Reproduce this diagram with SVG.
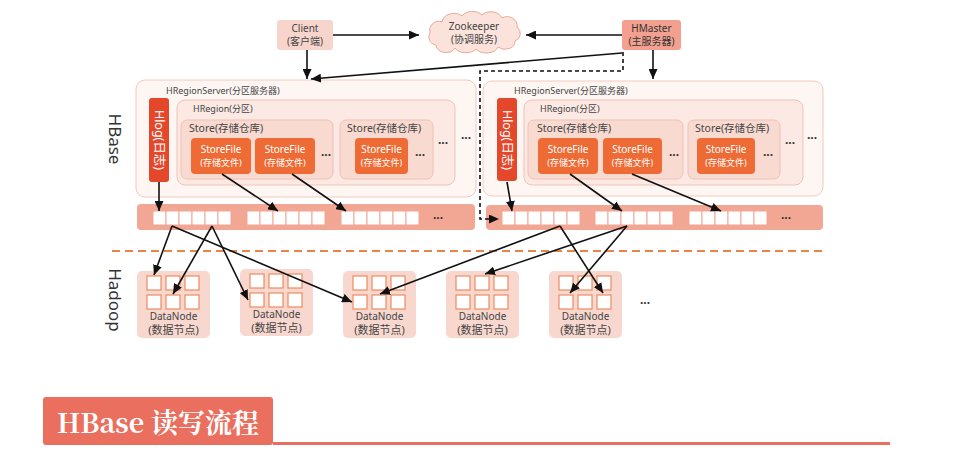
<svg xmlns="http://www.w3.org/2000/svg" xmlns:xlink="http://www.w3.org/1999/xlink" width="953" height="462" viewBox="0 0 953 462">
<style>
text{font-family:"Noto Sans","Open Sans","Noto Sans CJK SC",sans-serif;fill:#444}
.t9{font-size:9px}
.t10{font-size:10px}
.t105{font-size:10.5px}
.c{text-anchor:middle}
.w{fill:#fff}
.rs{fill:#fef6f3;stroke:#f2c9bd;stroke-width:1}
.rg{fill:#fce9e3;stroke:#f0c3b6;stroke-width:1}
.st{fill:#f9dad1;stroke:#efc2b5;stroke-width:1}
.sf{fill:#ee6b35}
.hl{fill:#e5472b}
.bar{fill:#f2a794}
.cell{fill:#fff;stroke:#f2a794;stroke-width:1}
.dn{fill:#f8d8ce}
.dc{fill:#fff;stroke:#ef8b5f;stroke-width:1.2}
.ar{stroke:#111;stroke-width:1.6;fill:none;marker-end:url(#ah)}
.dots{font-size:12px;fill:#333;font-weight:bold}
</style>
<defs>
<marker id="ah" markerUnits="userSpaceOnUse" markerWidth="10" markerHeight="9" refX="10" refY="4.5" orient="auto">
<path d="M0,0 L10,4.5 L0,9 z" fill="#111"/>
</marker>
<g id="cells6">
<rect class="cell" x="0" y="0" width="13" height="14"/>
<rect class="cell" x="13" y="0" width="13" height="14"/>
<rect class="cell" x="26" y="0" width="13" height="14"/>
<rect class="cell" x="39" y="0" width="13" height="14"/>
<rect class="cell" x="52" y="0" width="13" height="14"/>
<rect class="cell" x="65" y="0" width="13" height="14"/>
</g>
<g id="dnode">
<rect class="dn" x="0" y="0" width="73" height="67" rx="5"/>
<rect class="dc" x="10" y="5" width="14" height="14"/>
<rect class="dc" x="29" y="5" width="14" height="14"/>
<rect class="dc" x="48" y="5" width="14" height="14"/>
<rect class="dc" x="10" y="24" width="14" height="14"/>
<rect class="dc" x="29" y="24" width="14" height="14"/>
<rect class="dc" x="48" y="24" width="14" height="14"/>
<text class="t10 c" x="36.5" y="49">DataNode</text>
<text class="c" style="font-size:11px" x="36.5" y="63">(数据节点)</text>
</g>
</defs>

<!-- side labels -->
<text x="115" y="139" transform="rotate(90 115 139)" style="font-size:17px;fill:#333" text-anchor="middle" dominant-baseline="central">HBase</text>
<text x="115" y="300" transform="rotate(90 115 300)" style="font-size:17px;fill:#333" text-anchor="middle" dominant-baseline="central">Hadoop</text>

<!-- top nodes -->
<g id="client">
<rect x="277" y="20" width="56" height="30" rx="3" fill="#f8d5cc"/>
<text class="t10 c" x="305" y="32">Client</text>
<text class="t10 c" x="305" y="45">(客户端)</text>
</g>
<g id="zookeeper">
<path d="M436,45 A8,8 0 0 1 430,33 A9,9 0 0 1 442,22 A12,10 0 0 1 462,16 A12,9 0 0 1 482,15 A12,10 0 0 1 502,18 A10,9 0 0 1 517,27 A8,8 0 0 1 515,41 A10,8 0 0 1 498,47 A12,8 0 0 1 476,49 A12,8 0 0 1 455,48 A10,8 0 0 1 436,45 Z" fill="#fbe3dc" stroke="#e9a999" stroke-width="1"/>
<text class="t10 c" x="474" y="30">Zookeeper</text>
<text class="t10 c" x="474" y="43">(协调服务)</text>
</g>
<g id="hmaster">
<rect x="622" y="20" width="59" height="30" rx="3" fill="#f3a090"/>
<text class="t10 c" x="651.5" y="32" style="fill:#333">HMaster</text>
<text class="t10 c" x="651.5" y="45" style="fill:#333">(主服务器)</text>
</g>

<!-- left region server -->
<g id="rs1">
<rect class="rs" x="136" y="80" width="340" height="117" rx="9"/>
<text class="t9" x="166" y="94">HRegionServer(分区服务器)</text>
<rect class="rg" x="177" y="100" width="278" height="85" rx="8"/>
<text class="t9" x="193" y="112">HRegion(分区)</text>
<rect class="st" x="181" y="120" width="152" height="59" rx="6"/>
<text class="t105" x="189" y="132">Store(存储仓库)</text>
<rect class="sf" x="191" y="138" width="60" height="36" rx="4"/>
<text class="t10 c w" x="221" y="153">StoreFile</text>
<text class="t9 c w" x="221" y="166">(存储文件)</text>
<rect class="sf" x="255" y="138" width="60" height="36" rx="4"/>
<text class="t10 c w" x="285" y="153">StoreFile</text>
<text class="t9 c w" x="285" y="166">(存储文件)</text>
<text class="dots c" x="326" y="159">···</text>
<rect class="st" x="340" y="120" width="93" height="59" rx="6"/>
<text class="t105" x="347" y="132">Store(存储仓库)</text>
<rect class="sf" x="355" y="138" width="53" height="36" rx="4"/>
<text class="t10 c w" x="381.5" y="153">StoreFile</text>
<text class="t9 c w" x="381.5" y="166">(存储文件)</text>
<text class="dots c" x="420" y="159">···</text>
<text class="dots c" x="443" y="147">···</text>
<text class="dots c" x="466" y="142">···</text>
<rect class="hl" x="149" y="98" width="20" height="84" rx="3"/>
<text x="159" y="140" transform="rotate(90 159 140)" class="c w" style="font-size:12.5px" dominant-baseline="central">Hlog(日志)</text>
</g>
<g id="bar1">
<rect class="bar" x="137" y="204" width="338" height="26" rx="4"/>
<use xlink:href="#cells6" x="153" y="211"/>
<use xlink:href="#cells6" x="247" y="211"/>
<use xlink:href="#cells6" x="341" y="211"/>
<text class="dots c" x="438" y="222">···</text>
</g>

<!-- right region server -->
<g id="rs2">
<rect class="rs" x="483" y="81" width="340" height="115" rx="9"/>
<text class="t9" x="514" y="94">HRegionServer(分区服务器)</text>
<rect class="rg" x="524" y="100" width="279" height="85" rx="8"/>
<text class="t9" x="540" y="112">HRegion(分区)</text>
<rect class="st" x="528" y="120" width="155" height="59" rx="6"/>
<text class="t105" x="537" y="132">Store(存储仓库)</text>
<rect class="sf" x="538" y="138" width="60" height="36" rx="4"/>
<text class="t10 c w" x="568" y="153">StoreFile</text>
<text class="t9 c w" x="568" y="166">(存储文件)</text>
<rect class="sf" x="603" y="138" width="59" height="36" rx="4"/>
<text class="t10 c w" x="632.5" y="153">StoreFile</text>
<text class="t9 c w" x="632.5" y="166">(存储文件)</text>
<text class="dots c" x="674" y="159">···</text>
<rect class="st" x="688" y="120" width="92" height="59" rx="6"/>
<text class="t105" x="695" y="132">Store(存储仓库)</text>
<rect class="sf" x="697" y="138" width="58" height="36" rx="4"/>
<text class="t10 c w" x="726" y="153">StoreFile</text>
<text class="t9 c w" x="726" y="166">(存储文件)</text>
<text class="dots c" x="768" y="159">···</text>
<text class="dots c" x="790" y="147">···</text>
<text class="dots c" x="812" y="142">···</text>
<rect class="hl" x="497" y="98" width="20" height="83" rx="3"/>
<text x="507" y="140" transform="rotate(90 507 140)" class="c w" style="font-size:12.5px" dominant-baseline="central">Hlog(日志)</text>
</g>
<g id="bar2">
<rect class="bar" x="486" y="205" width="337" height="25" rx="4"/>
<use xlink:href="#cells6" x="502" y="211"/>
<use xlink:href="#cells6" x="595" y="211"/>
<use xlink:href="#cells6" x="689" y="211"/>
<text class="dots c" x="786" y="222">···</text>
</g>

<!-- separator -->
<line x1="112" y1="251" x2="826" y2="251" stroke="#e8834a" stroke-width="2" stroke-dasharray="8,5"/>

<!-- datanodes -->
<g id="dn1"><use xlink:href="#dnode" x="137" y="271"/></g>
<g id="dn2"><use xlink:href="#dnode" x="240" y="269"/></g>
<g id="dn3"><use xlink:href="#dnode" x="343" y="271"/></g>
<g id="dn4"><use xlink:href="#dnode" x="446" y="271"/></g>
<g id="dn5"><use xlink:href="#dnode" x="549" y="271"/></g>
<text class="dots c" x="645" y="307">···</text>

<!-- connectors -->
<g id="connectors">
<line class="ar" x1="333" y1="35" x2="419" y2="35"/>
<line class="ar" x1="622" y1="35" x2="526" y2="35"/>
<line class="ar" x1="307" y1="50" x2="307" y2="79"/>
<line class="ar" x1="622" y1="53" x2="311" y2="79"/>
<line class="ar" x1="653" y1="50" x2="653" y2="79"/>
<path d="M623,52 L623,71 L480,71 L480,219 L499,219" fill="none" stroke="#111" stroke-width="1.6" stroke-dasharray="4,3" marker-end="url(#ah)"/>
<line class="ar" x1="159" y1="182" x2="159" y2="211"/>
<line class="ar" x1="222" y1="174" x2="278" y2="211"/>
<line class="ar" x1="292" y1="174" x2="346" y2="211"/>
<line class="ar" x1="507" y1="182" x2="512" y2="211"/>
<line class="ar" x1="570" y1="174" x2="622" y2="211"/>
<line class="ar" x1="632" y1="174" x2="721" y2="211"/>
<line class="ar" x1="172" y1="226" x2="154" y2="275"/>
<line class="ar" x1="172" y1="226" x2="352" y2="302"/>
<line class="ar" x1="212" y1="226" x2="173" y2="294"/>
<line class="ar" x1="212" y1="226" x2="248" y2="300"/>
<line class="ar" x1="560" y1="226" x2="380" y2="294"/>
<line class="ar" x1="560" y1="226" x2="603" y2="293"/>
<line class="ar" x1="627" y1="226" x2="485" y2="274"/>
<line class="ar" x1="627" y1="226" x2="570" y2="293"/>
</g>

<!-- title -->
<g id="title">
<rect x="43" y="397" width="230" height="48" rx="3" fill="#ea6f5f"/>
<rect x="273" y="442" width="617" height="3" fill="#ea6f5f"/>
<text x="57" y="433" style="font-family:'Noto Serif CJK SC','Liberation Serif','Noto Sans CJK SC',serif;font-size:27px;font-weight:bold;fill:#fff">HBase 读写流程</text>
</g>
</svg>
